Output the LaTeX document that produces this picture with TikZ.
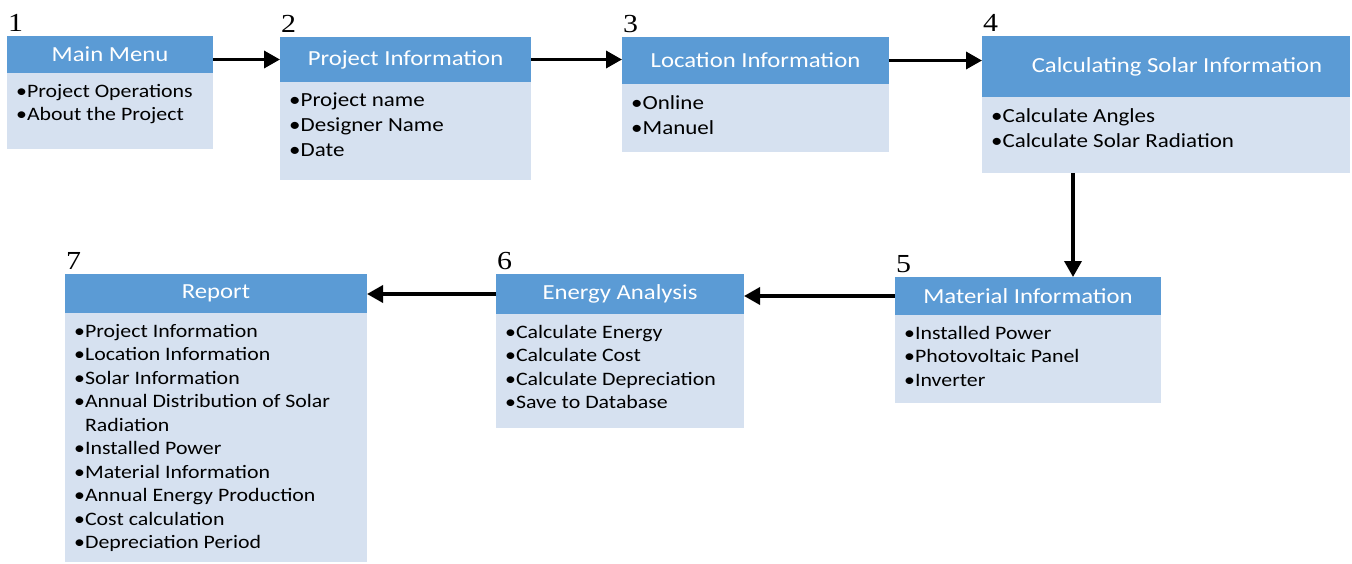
\documentclass[tikz,border=0pt]{standalone}
\usepackage{fontspec}
\setmainfont{Carlito}[FakeStretch=1.15]
\newfontfamily\numfont{Liberation Serif}[FakeStretch=1.15]
\usetikzlibrary{positioning}
\usetikzlibrary{arrows.meta}
\definecolor{headblue}{HTML}{5B9BD5}
\definecolor{paleblue}{HTML}{D6E1F0}

\begin{document}
\begin{tikzpicture}[x=1pt, y=-1pt,
		head/.style={fill=headblue, text=white, anchor=north west,
			inner sep=0pt, outer sep=0pt,
			font=\fontsize{21.5}{26}\selectfont},
		body/.style={fill=paleblue, inner sep=0pt, outer sep=0pt,
			below=0pt of #1},
		list/.style={anchor=north west, align=left, inner xsep=9pt,
			inner ysep=11pt, font=\fontsize{19}{23.5}\selectfont},
		biglist/.style={list, font=\fontsize{20}{25}\selectfont},
		num/.style={anchor=south west, inner xsep=1pt, inner ysep=4pt,
			font=\numfont\fontsize{26}{30}\selectfont},
		flow/.style={line width=3.5pt, -{Triangle[length=16pt, width=17pt]}}
		]
		\useasboundingbox (0,0) rectangle (1352,563);
		
		%top row
		\node[head, minimum width=206pt, minimum height=37pt,
			label={[num]north west:1}] (menu) at (7,36) {Main Menu};
		\node[body=menu, minimum width=206pt, minimum height=76pt,
			label={[list]north west:{•Project Operations\\•About the Project}}] (menu-b) {};
		
		\node[head, minimum width=251pt, minimum height=45pt,
			label={[num]north west:2}] (projinfo) at (280,37) {Project Information};
		\node[body=projinfo, minimum width=251pt, minimum height=98pt,
			label={[biglist]north west:{•Project name\\•Designer Name\\•Date}}] (projinfo-b) {};
		
		\node[head, minimum width=267pt, minimum height=47pt,
			label={[num]north west:3}] (location) at (622,37) {Location Information};
		\node[body=location, minimum width=267pt, minimum height=68pt,
			label={[biglist]north west:{•Online\\•Manuel}}] (location-b) {};
		
		\node[head, minimum width=368pt, minimum height=61pt,
			label={[num]north west:4}] (solar) at (982,36) {\hspace*{22pt}Calculating Solar Information};
		\node[body=solar, minimum width=368pt, minimum height=76pt,
			label={[biglist]north west:{•Calculate Angles\\•Calculate Solar Radiation}}] (solar-b) {};
		
		%bottom row
		\node[head, minimum width=266pt, minimum height=38pt,
			label={[num]north west:5}] (material) at (895,277) {Material Information};
		\node[body=material, minimum width=266pt, minimum height=88pt,
			label={[list]north west:{•Installed Power\\•Photovoltaic Panel\\•Inverter}}] (material-b) {};
		
		\node[head, minimum width=248pt, minimum height=40pt,
			label={[num]north west:6}] (energy) at (496,274) {Energy Analysis};
		\node[body=energy, minimum width=248pt, minimum height=114pt,
			label={[list]north west:{•Calculate Energy\\•Calculate Cost\\•Calculate Depreciation\\•Save to Database}}] (energy-b) {};
		
		\node[head, minimum width=302pt, minimum height=39pt,
			label={[num]north west:7}] (report) at (65,274) {Report};
		\node[body=report, minimum width=302pt, minimum height=249pt,
			label={[list]north west:{•Project Information\\•Location Information\\•Solar Information\\•Annual Distribution of Solar\\\phantom{•}Radiation\\•Installed Power\\•Material Information\\•Annual Energy Production\\•Cost calculation\\•Depreciation Period}}] (report-b) {};
		
		%flow between the steps
		\draw[flow] (menu.east |- projinfo.west) -- (projinfo.west);
		\draw[flow] (projinfo.east) -- (projinfo.east -| location.west);
		\draw[flow] (location.east) -- (location.east -| solar.west);
		\draw[flow] ([xshift=45pt]material.north |- solar-b.south) -- ([xshift=45pt]material.north);
		\draw[flow] (material.west) -- (material.west -| energy.east);
		\draw[flow] (energy.west) -- (energy.west -| report.east);
	\end{tikzpicture}
\end{document}
